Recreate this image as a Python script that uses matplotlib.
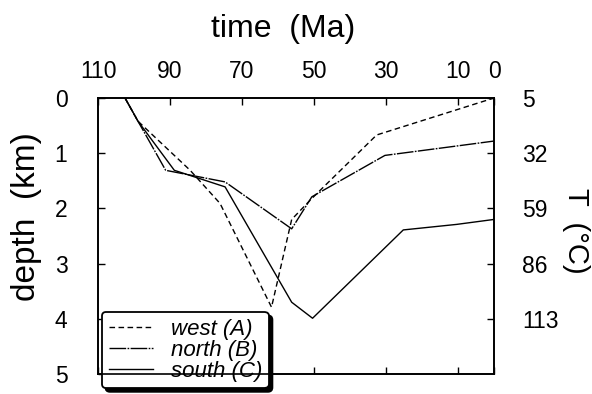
import matplotlib
matplotlib.use("Agg")
import matplotlib.pyplot as plt

plt.rcParams['font.family'] = ['Liberation Sans', 'DejaVu Sans']

# ---- data ----
time_west = [102.5, 98.9, 84.4, 76.1, 61.8, 56.2, 50.6, 32.6, 0.0]
depth_west = [0.0, 0.42, 1.31, 1.91, 3.79, 2.2, 1.82, 0.67, 0.0]

time_north = [102.5, 98.9, 91.2, 74.7, 56.2, 50.6, 30.3, 10.4, 0.0]
depth_north = [0.0, 0.42, 1.31, 1.52, 2.37, 1.79, 1.04, 0.87, 0.78]

time_south = [102.5, 98.9, 88.8, 74.7, 56.2, 50.4, 25.2, 10.4, 0.0]
depth_south = [0.0, 0.42, 1.31, 1.61, 3.70, 3.99, 2.39, 2.29, 2.2]

series_labels = ["west (A)", "north (B)", "south (C)"]

time_ticks = [110, 90, 70, 50, 30, 10, 0]
depth_ticks = [0, 1, 2, 3, 4, 5]
temp_tick_depths = [0, 1, 2, 3, 4]
temp_tick_labels = ["5", "32", "59", "86", "113"]

W, H = 592, 394
fig = plt.figure(figsize=(W / 100, H / 100), dpi=100)
ax = fig.add_axes([98 / W, 1 - 374 / H, (494 - 98) / W, (374 - 98) / H])

lw = 1.0
ax.plot(time_west, depth_west, color='k', lw=lw, linestyle=(0, (4, 2.5)), label=series_labels[0])
ax.plot(time_north, depth_north, color='k', lw=lw, linestyle=(0, (12, 1, 1.2, 1)), label=series_labels[1])
ax.plot(time_south, depth_south, color='k', lw=lw, linestyle='-', label=series_labels[2])

ax.set_xlim(110, 0)
ax.set_ylim(5, 0)

for s in ax.spines.values():
    s.set_linewidth(1.2)

ax.set_xticks(time_ticks)
ax.set_xticklabels([str(t) for t in time_ticks])
ax.set_yticks(depth_ticks)
ax.set_yticklabels([str(d) for d in depth_ticks])
ax.tick_params(axis='x', which='both', direction='in', top=True, bottom=True,
               labeltop=True, labelbottom=False, length=5, width=1.0,
               labelsize=16.5, pad=11)
ax.tick_params(axis='y', which='both', direction='in', left=True, right=False,
               length=5, width=1.0, labelsize=16.5, pad=22)

ax2 = ax.twinx()
ax2.set_ylim(5, 0)
ax2.set_yticks(temp_tick_depths)
ax2.set_yticklabels(temp_tick_labels)
ax2.tick_params(axis='y', direction='in', length=5, width=1.0, labelsize=16.5, pad=20)
for s in ax2.spines.values():
    s.set_linewidth(1.2)

fig.text(283.5 / W, 1 - 29 / H, "time  (Ma)", fontsize=23, ha='center', va='center')
fig.text(27 / W, 1 - 216.5 / H, "depth  (km)", fontsize=24, rotation=90, ha='center', va='center')
fig.text(576 / W, 1 - 231 / H, "T  (°C)", fontsize=21, rotation=270, ha='center', va='center')

leg = ax.legend(loc='upper left', bbox_to_anchor=(102 / W, 1 - 312 / H),
                bbox_transform=fig.transFigure, borderaxespad=0,
                prop={'style': 'italic', 'size': 16},
                frameon=True, fancybox=True, framealpha=1,
                edgecolor='k', labelspacing=0.0, handlelength=2.0,
                handletextpad=0.8, borderpad=0.3,
                shadow={'ox': 2.5, 'oy': -2.5, 'facecolor': 'k', 'edgecolor': 'k', 'alpha': 1})
leg.get_frame().set_linewidth(1.3)
leg.set_zorder(10)

fig.savefig("out.png", dpi=100)
